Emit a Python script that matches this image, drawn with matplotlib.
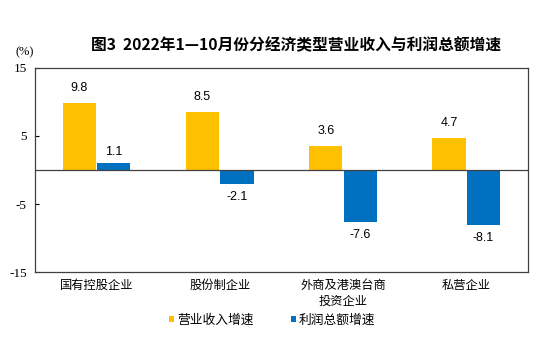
import matplotlib
matplotlib.use("Agg")
import matplotlib.pyplot as plt
import numpy as np

plt.rcParams['font.family'] = ['Noto Sans CJK SC', 'DejaVu Sans']

categories = ["国有控股企业", "股份制企业", "外商及港澳台商\n投资企业", "私营企业"]
revenue = [9.8, 8.5, 3.6, 4.7]
profit = [1.1, -2.1, -7.6, -8.1]
series_names = ["营业收入增速", "利润总额增速"]
yticks = [15, 5, -5, -15]

c_rev = "#FFC000"
c_pro = "#0070C0"

fig = plt.figure(figsize=(5.44, 3.38), dpi=100)
ax = fig.add_axes([0.0643, 0.195, 0.906, 0.604])

x = np.arange(len(categories))
w = 0.27
b1 = ax.bar(x - w/2 - 0.005, revenue, w, color=c_rev, label=series_names[0])
b2 = ax.bar(x + w/2 + 0.005, profit, w, color=c_pro, label=series_names[1])

for xi, v in zip(x - w/2 - 0.005, revenue):
    ax.text(xi, v + 1.3, f"{v}", ha="center", va="bottom", fontsize=9, family="Liberation Sans")
for xi, v in zip(x + w/2 + 0.005, profit):
    if v >= 0:
        ax.text(xi, v + 0.6, f"{v}", ha="center", va="bottom", fontsize=9, family="Liberation Sans")
    else:
        ax.text(xi, v - 1.0, f"{v}", ha="center", va="top", fontsize=9, family="Liberation Sans")

ax.set_xlim(-0.5, 3.5)
ax.set_ylim(-15, 15)
ax.set_yticks(yticks)
ax.set_yticklabels([str(t) for t in yticks], family="Liberation Serif", fontsize=9.5)
ax.tick_params(axis='y', direction='in', length=3, pad=6, width=0.8)
ax.set_xticks(x)
ax.set_xticklabels(categories, fontsize=8.8, linespacing=1.25)
ax.tick_params(axis='x', length=0, pad=5)
ax.axhline(0, color="#404040", lw=0.9)
for s in ax.spines.values():
    s.set_color("#404040")
    s.set_linewidth(0.9)

fig.text(0.545, 0.866, "图3  2022年1—10月份分经济类型营业收入与利润总额增速", ha="center", va="center",
         fontsize=11.3, fontweight="semibold")
fig.text(0.045, 0.846, "(%)", ha="center", va="center", fontsize=9, family="Liberation Serif")

leg = fig.legend(handles=[b1, b2], labels=series_names, loc="center", bbox_to_anchor=(0.5, 0.053), ncol=2,
                 frameon=False, fontsize=9.2, handlelength=0.4, handleheight=0.4, handletextpad=0.2, columnspacing=2.9)

fig.savefig("out.png", dpi=100)
